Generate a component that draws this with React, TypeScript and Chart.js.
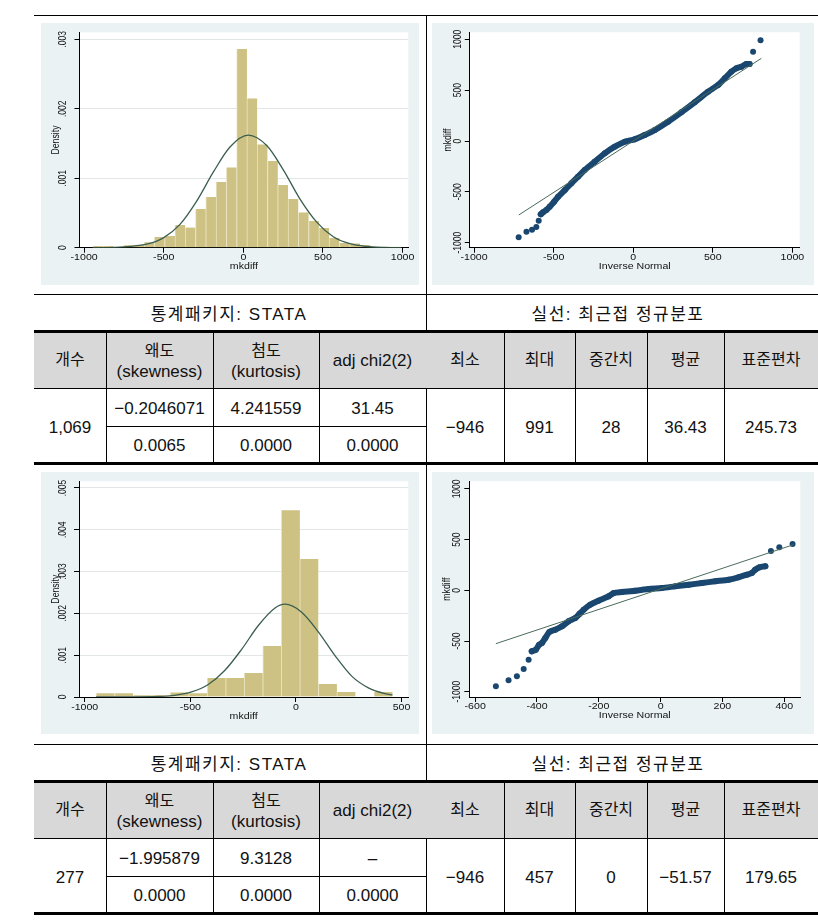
import React, { useEffect, useRef } from "react";
import { Chart, registerables } from "chart.js";

Chart.register(...registerables);

// ---------------- Histogram 1 (N = 1,069) ----------------
const hist1BinCenters = [-913.7, -849.1, -784.6, -720.0, -655.4, -590.9, -526.3, -461.7, -397.2, -332.6, -268.0, -203.5, -138.9, -74.3, -9.7, 54.8, 119.4, 184.0, 248.5, 313.1, 377.7, 442.2, 506.8, 571.4, 635.9, 700.5, 765.1, 829.6, 894.2, 958.8];
const hist1Density = [0.000024, 0.000024, 0.0, 0.000034, 0.000043, 0.000077, 0.000153, 0.000168, 0.000326, 0.00029, 0.000556, 0.000729, 0.000945, 0.001156, 0.002858, 0.002149, 0.001487, 0.001247, 0.000902, 0.0007, 0.000508, 0.000384, 0.000283, 0.00014, 0.000067, 0.000062, 0.00004, 0.000012, 0.000012, 0.000012];
const hist1NormalX = [-946, -816, -710, -607, -502, -398, -293, -188, -84, 31, 147, 251, 356, 461, 565, 670, 775, 880, 991];
const hist1NormalY = [0.0, 0.000005, 0.000018, 0.00005, 0.000142, 0.000335, 0.00067, 0.00109, 0.00145, 0.00162, 0.00147, 0.00112, 0.0007, 0.000368, 0.000158, 0.000057, 0.000017, 0.000004, 0.000001];
const hist1XTicks = [-1000, -500, 0, 500, 1000];
const hist1XTickLabels = ["-1000", "-500", "0", "500", "1000"];
const hist1YTicks = [0, 0.001, 0.002, 0.003];
const hist1YTickLabels = ["0", ".001", ".002", ".003"];

// ---------------- Normal Q-Q 1 ----------------
const qq1BandX = [-581, -567, -546, -525, -497, -472, -430, -389, -347, -305, -242, -179, -116, -53, 9, 72, 135, 219, 302, 386, 470, 533, 575, 616, 648, 679, 710, 731];
const qq1BandY = [-721, -701, -678, -646, -597, -548, -482, -416, -351, -285, -203, -121, -56, -7, 17, 59, 108, 190, 282, 380, 485, 551, 616, 681, 715, 731, 757, 757];
const qq1TailX = [-720, -671, -636, -609, -594, 753, 800];
const qq1TailY = [-946, -892, -872, -846, -783, 878, 991];
const qq1LineX = [-719, 805];
const qq1LineY = [-727, 813];
const qq1XTicks = [-1000, -500, 0, 500, 1000];
const qq1XTickLabels = ["-1000", "-500", "0", "500", "1000"];
const qq1YTicks = [-1000, -500, 0, 500, 1000];
const qq1YTickLabels = ["-1000", "-500", "0", "500", "1000"];

// ---------------- Histogram 2 (N = 277) ----------------
const hist2BinCenters = [-902.2, -814.5, -726.8, -639.1, -551.4, -463.7, -376.0, -288.3, -200.6, -112.9, -25.2, 62.5, 150.2, 237.9, 325.6, 413.3];
const hist2Density = [0.000088, 0.000088, 0.00004, 0.00004, 0.00011, 0.000088, 0.000455, 0.000455, 0.000574, 0.00122, 0.00447, 0.0033, 0.00031, 0.00012, 0.0, 0.00012];
const hist2NormalX = [-946, -800, -652, -573, -494, -415, -336, -257, -178, -99, -52, 27, 106, 185, 264, 343, 422, 457];
const hist2NormalY = [0.0, 0.000002, 0.000012, 0.00004, 0.00012, 0.0003, 0.00064, 0.00114, 0.00171, 0.00213, 0.00222, 0.00203, 0.00156, 0.00099, 0.0005, 0.00022, 0.00008, 0.00005];
const hist2XTicks = [-1000, -500, 0, 500];
const hist2XTickLabels = ["-1000", "-500", "0", "500"];
const hist2YTicks = [0, 0.001, 0.002, 0.003, 0.004, 0.005];
const hist2YTickLabels = ["0", ".001", ".002", ".003", ".004", ".005"];

// ---------------- Normal Q-Q 2 ----------------
const qq2BandX = [-417, -404, -393, -384, -373, -360, -341, -319, -298, -276, -263, -249, -228, -201, -168, -152, -125, -82, -39, 4, 47, 91, 134, 177, 220, 252, 279, 295, 306, 320, 339];
const qq2BandY = [-602, -586, -536, -520, -470, -411, -388, -355, -306, -273, -234, -191, -142, -102, -59, -27, -17, -4, 13, 23, 39, 55, 72, 89, 105, 128, 154, 171, 203, 227, 237];
const qq2TailX = [-533, -492, -465, -443, -427, 357, 384, 427];
const qq2TailY = [-946, -888, -848, -776, -684, 388, 424, 457];
const qq2LineX = [-533, 430];
const qq2LineY = [-526, 450];
const qq2XTicks = [-600, -400, -200, 0, 200, 400];
const qq2XTickLabels = ["-600", "-400", "-200", "0", "200", "400"];
const qq2YTicks = [-1000, -500, 0, 500, 1000];
const qq2YTickLabels = ["-1000", "-500", "0", "500", "1000"];

// ---------------- Table text ----------------
const sectionTitles = ["통계패키지: STATA", "실선: 최근접 정규분포"];
const headerMain = ["개수", "왜도", "첨도", "adj chi2(2)", "최소", "최대", "중간치", "평균", "표준편차"];
const headerSub = ["", "(skewness)", "(kurtosis)", "", "", "", "", "", ""];
const table1Count = "1,069";
const table1TestRow1 = ["−0.2046071", "4.241559", "31.45"];
const table1TestRow2 = ["0.0065", "0.0000", "0.0000"];
const table1Stats = ["−946", "991", "28", "36.43", "245.73"];
const table2Count = "277";
const table2TestRow1 = ["−1.995879", "9.3128", "–"];
const table2TestRow2 = ["0.0000", "0.0000", "0.0000"];
const table2Stats = ["−946", "457", "0", "−51.57", "179.65"];

// ---------------- Styling ----------------
const PANEL_BG = "#eaf2f3";
const BAR_FILL = "#cdc283";
const BAR_EDGE = "#e8e2bd";
const CURVE = "#3b5e4f";
const NAVY = "#1a476f";
const REF_LINE = "#4a6b5b";
const CHART_FONT = '"Liberation Sans", Arial, Helvetica, sans-serif';
const TABLE_FONT = '"Liberation Sans", Arial, "Noto Sans CJK KR", sans-serif';
const TEXT_SX = 1.22;
const COLS = [34, 106, 213, 319, 426, 504, 575, 647, 724, 818];

type Frame = {
  left: number; top: number; width: number; height: number;
  padTop: number; padRight: number; yAxisW: number; xAxisH: number;
  xMin: number; xMax: number; yMin: number; yMax: number;
  xTicks: number[]; xLabels: string[]; yTicks: number[]; yLabels: string[];
  xTitle: string; yTitle: string; yGrid: boolean;
  xTickDy: number; xTitleDy: number; yTickDx: number; yTitleDx: number;
};

const pts = (xs: number[], ys: number[]) => xs.map((x, i) => ({ x, y: ys[i] }));

function drawText(ctx: CanvasRenderingContext2D, text: string, x: number, y: number, rotated: boolean) {
  ctx.save();
  ctx.translate(x, y);
  ctx.scale(TEXT_SX, 1);
  if (rotated) ctx.rotate(-Math.PI / 2);
  ctx.fillText(text, 0, 0);
  ctx.restore();
}

function stataPlugin(f: Frame) {
  return {
    id: "stataFrame",
    beforeDraw(chart: any) {
      const { ctx, chartArea: a, width, height } = chart;
      ctx.save();
      ctx.fillStyle = PANEL_BG;
      ctx.fillRect(0, 0, width, height);
      ctx.fillStyle = "#ffffff";
      ctx.fillRect(a.left, a.top, a.right - a.left, a.bottom - a.top);
      ctx.restore();
    },
    afterDraw(chart: any) {
      const { ctx, chartArea: a } = chart;
      const xs = chart.scales.x;
      const ys = chart.scales.y;
      ctx.save();
      ctx.fillStyle = "#111";
      ctx.textAlign = "center";
      ctx.textBaseline = "middle";
      ctx.font = `8.7px ${CHART_FONT}`;
      f.xTicks.forEach((v, i) => drawText(ctx, f.xLabels[i], xs.getPixelForValue(v), a.bottom + f.xTickDy, false));
      ctx.font = `8.5px ${CHART_FONT}`;
      f.yTicks.forEach((v, i) => drawText(ctx, f.yLabels[i], a.left + f.yTickDx, ys.getPixelForValue(v), true));
      ctx.font = `8.7px ${CHART_FONT}`;
      drawText(ctx, f.xTitle, (a.left + a.right) / 2, a.bottom + f.xTitleDy, false);
      drawText(ctx, f.yTitle, a.left + f.yTitleDx, (a.top + a.bottom) / 2, true);
      ctx.restore();
    },
  };
}

function buildOptions(f: Frame): any {
  return {
    animation: false,
    responsive: false,
    maintainAspectRatio: false,
    devicePixelRatio: 1,
    layout: { autoPadding: false, padding: { top: f.padTop, right: f.padRight, left: 0, bottom: 0 } },
    plugins: { legend: { display: false }, tooltip: { enabled: false }, title: { display: false } },
    events: [],
    scales: {
      x: {
        type: "linear",
        min: f.xMin,
        max: f.xMax,
        offset: false,
        afterBuildTicks: (s: any) => { s.ticks = f.xTicks.map((v) => ({ value: v })); },
        afterFit: (s: any) => { s.height = f.xAxisH; },
        ticks: { display: false },
        grid: { display: true, offset: false, drawOnChartArea: false, drawTicks: true, tickLength: 5, tickColor: "#000", tickWidth: 1 },
        border: { display: true, color: "#000", width: 1 },
      },
      y: {
        type: "linear",
        min: f.yMin,
        max: f.yMax,
        beginAtZero: false,
        afterBuildTicks: (s: any) => { s.ticks = f.yTicks.map((v) => ({ value: v })); },
        afterFit: (s: any) => { s.width = f.yAxisW; },
        ticks: { display: false },
        grid: { display: true, drawOnChartArea: f.yGrid, color: "#e2e6e6", lineWidth: 1, drawTicks: true, tickLength: 5, tickColor: "#000", tickWidth: 1 },
        border: { display: true, color: "#000", width: 1 },
      },
    },
  };
}

function ChartPanel({ frame, kind, makeDatasets }: { frame: Frame; kind: string; makeDatasets: () => any[] }) {
  const ref = useRef<HTMLCanvasElement | null>(null);
  useEffect(() => {
    if (!ref.current) return;
    const chart = new Chart(ref.current, {
      type: kind as any,
      data: { datasets: makeDatasets() },
      options: buildOptions(frame),
      plugins: [stataPlugin(frame) as any],
    });
    return () => chart.destroy();
  }, []);
  return (
    <canvas
      ref={ref}
      width={frame.width}
      height={frame.height}
      style={{ position: "absolute", left: frame.left, top: frame.top, width: frame.width, height: frame.height }}
    />
  );
}

const histDatasets = (cx: number[], dens: number[], nx: number[], ny: number[]) => () => [
  {
    type: "line",
    data: pts(nx, ny),
    borderColor: CURVE,
    borderWidth: 1.3,
    pointRadius: 0,
    cubicInterpolationMode: "monotone",
    fill: false,
    order: 0,
  },
  {
    type: "bar",
    data: pts(cx, dens),
    backgroundColor: BAR_FILL,
    borderColor: BAR_EDGE,
    borderWidth: { left: 1, right: 0, top: 0, bottom: 0 },
    borderSkipped: false,
    barPercentage: 1,
    categoryPercentage: 1,
    order: 1,
  },
];

const qqDatasets = (lx: number[], ly: number[], bx: number[], by: number[], tx: number[], ty: number[]) => () => [
  { type: "line", data: pts(lx, ly), borderColor: REF_LINE, borderWidth: 1, pointRadius: 0, fill: false, order: 0 },
  {
    type: "line",
    data: pts(bx, by),
    borderColor: NAVY,
    borderWidth: 6,
    borderCapStyle: "round",
    borderJoinStyle: "round",
    tension: 0.25,
    pointRadius: 3,
    pointBackgroundColor: NAVY,
    pointBorderWidth: 0,
    fill: false,
    order: 1,
  },
  { type: "scatter", data: pts(tx, ty), pointRadius: 3, pointBackgroundColor: NAVY, pointBorderWidth: 0, showLine: false, order: 1 },
];

const hist1Frame: Frame = {
  left: 41, top: 23, width: 378, height: 262, padTop: 9.3, padRight: 10.7, yAxisW: 38.5, xAxisH: 37.3,
  xMin: -1029, xMax: 1036, yMin: 0, yMax: 0.0031,
  xTicks: hist1XTicks, xLabels: hist1XTickLabels, yTicks: hist1YTicks, yLabels: hist1YTickLabels,
  xTitle: "mkdiff", yTitle: "Density", yGrid: true, xTickDy: 9.6, xTitleDy: 19.3, yTickDx: -16, yTitleDx: -23,
};
const qq1Frame: Frame = {
  left: 432, top: 23, width: 382, height: 262, padTop: 9.3, padRight: 14.3, yAxisW: 37.8, xAxisH: 37.3,
  xMin: -1027, xMax: 1046, yMin: -1049, yMax: 1069,
  xTicks: qq1XTicks, xLabels: qq1XTickLabels, yTicks: qq1YTicks, yLabels: qq1YTickLabels,
  xTitle: "Inverse Normal", yTitle: "mkdiff", yGrid: false, xTickDy: 9.8, xTitleDy: 18.8, yTickDx: -12, yTitleDx: -22,
};
const hist2Frame: Frame = {
  left: 41, top: 472, width: 378, height: 262, padTop: 9.3, padRight: 10.7, yAxisW: 38, xAxisH: 37,
  xMin: -1027, xMax: 532, yMin: 0, yMax: 0.00516,
  xTicks: hist2XTicks, xLabels: hist2XTickLabels, yTicks: hist2YTicks, yLabels: hist2YTickLabels,
  xTitle: "mkdiff", yTitle: "Density", yGrid: true, xTickDy: 10.5, xTitleDy: 20, yTickDx: -16, yTitleDx: -23,
};
const qq2Frame: Frame = {
  left: 432, top: 472, width: 382, height: 262, padTop: 9.3, padRight: 13.7, yAxisW: 37.3, xAxisH: 37,
  xMin: -619, xMax: 452, yMin: -1052, yMax: 1075,
  xTicks: qq2XTicks, xLabels: qq2XTickLabels, yTicks: qq2YTicks, yLabels: qq2YTickLabels,
  xTitle: "Inverse Normal", yTitle: "mkdiff", yGrid: false, xTickDy: 9.7, xTitleDy: 18.8, yTickDx: -12, yTitleDx: -22,
};

function Line({ x, y, w, h }: { x: number; y: number; w: number; h: number }) {
  return <div style={{ position: "absolute", left: x, top: y, width: w, height: h, background: "#000" }} />;
}

function T({ x, y, text, size = 17, spacing = 0 }: { x: number; y: number; text: string; size?: number; spacing?: number }) {
  return (
    <div
      style={{
        position: "absolute",
        left: x,
        top: y,
        transform: "translate(-50%, -50%)",
        fontSize: size,
        lineHeight: 1,
        whiteSpace: "pre",
        letterSpacing: spacing,
        color: "#111",
      }}
    >
      {text}
    </div>
  );
}

const colCenter = (i: number) => (COLS[i] + COLS[i + 1]) / 2;
const hasHangul = (s: string) => /[\uac00-\ud7a3]/.test(s);

function Section({ d, count, row1, row2, stats, topY }: { d: number; count: string; row1: string[]; row2: string[]; stats: string[]; topY: number }) {
  const items: any[] = [];
  items.push(<Line key="vdiv" x={426} y={topY} w={1} h={d + 462 - topY} />);
  items.push(<Line key="thin" x={34} y={d + 293.5} w={784} h={1} />);
  items.push(<T key="t0" x={229} y={d + 314} text={sectionTitles[0]} size={17} spacing={1.5} />);
  items.push(<T key="t1" x={618} y={d + 314} text={sectionTitles[1]} size={17} spacing={1.5} />);
  items.push(<div key="hbg" style={{ position: "absolute", left: 34, top: d + 333, width: 784, height: 55, background: "#d8d8d8" }} />);
  items.push(<Line key="thick1" x={34} y={d + 330} w={784} h={3} />);
  items.push(<Line key="hline" x={34} y={d + 388} w={784} h={1} />);
  items.push(<Line key="mid" x={106} y={d + 426} w={320} h={1} />);
  items.push(<Line key="thick2" x={34} y={d + 462} w={784} h={3} />);
  COLS.slice(1, 9).forEach((cx, i) => {
    if (cx !== 426) items.push(<Line key={"v" + i} x={cx} y={d + 333} w={1} h={129} />);
  });
  headerMain.forEach((h, i) => {
    const sub = headerSub[i];
    const size = hasHangul(h) ? 16 : 17;
    if (sub) {
      items.push(<T key={"h" + i} x={colCenter(i)} y={d + 351} text={h} size={size} />);
      items.push(<T key={"hs" + i} x={colCenter(i)} y={d + 371} text={sub} />);
    } else {
      items.push(<T key={"h" + i} x={colCenter(i)} y={d + 360} text={h} size={size} />);
    }
  });
  items.push(<T key="n" x={colCenter(0)} y={d + 426.5} text={count} />);
  row1.forEach((v, i) => items.push(<T key={"r1" + i} x={colCenter(i + 1)} y={d + 408} text={v} />));
  row2.forEach((v, i) => items.push(<T key={"r2" + i} x={colCenter(i + 1)} y={d + 445} text={v} />));
  stats.forEach((v, i) => items.push(<T key={"s" + i} x={colCenter(i + 4)} y={d + 426.5} text={v} />));
  return <>{items}</>;
}

export default function App() {
  return (
    <div
      style={{
        position: "absolute",
        left: 0,
        top: 0,
        width: 818,
        height: 921,
        overflow: "hidden",
        background: "#fff",
        fontFamily: TABLE_FONT,
      }}
    >
      <Line x={34} y={15} w={784} h={1} />
      <Section d={0} topY={16} count={table1Count} row1={table1TestRow1} row2={table1TestRow2} stats={table1Stats} />
      <Section d={450} topY={465} count={table2Count} row1={table2TestRow1} row2={table2TestRow2} stats={table2Stats} />
      <ChartPanel frame={hist1Frame} kind="bar" makeDatasets={histDatasets(hist1BinCenters, hist1Density, hist1NormalX, hist1NormalY)} />
      <ChartPanel frame={qq1Frame} kind="scatter" makeDatasets={qqDatasets(qq1LineX, qq1LineY, qq1BandX, qq1BandY, qq1TailX, qq1TailY)} />
      <ChartPanel frame={hist2Frame} kind="bar" makeDatasets={histDatasets(hist2BinCenters, hist2Density, hist2NormalX, hist2NormalY)} />
      <ChartPanel frame={qq2Frame} kind="scatter" makeDatasets={qqDatasets(qq2LineX, qq2LineY, qq2BandX, qq2BandY, qq2TailX, qq2TailY)} />
    </div>
  );
}
